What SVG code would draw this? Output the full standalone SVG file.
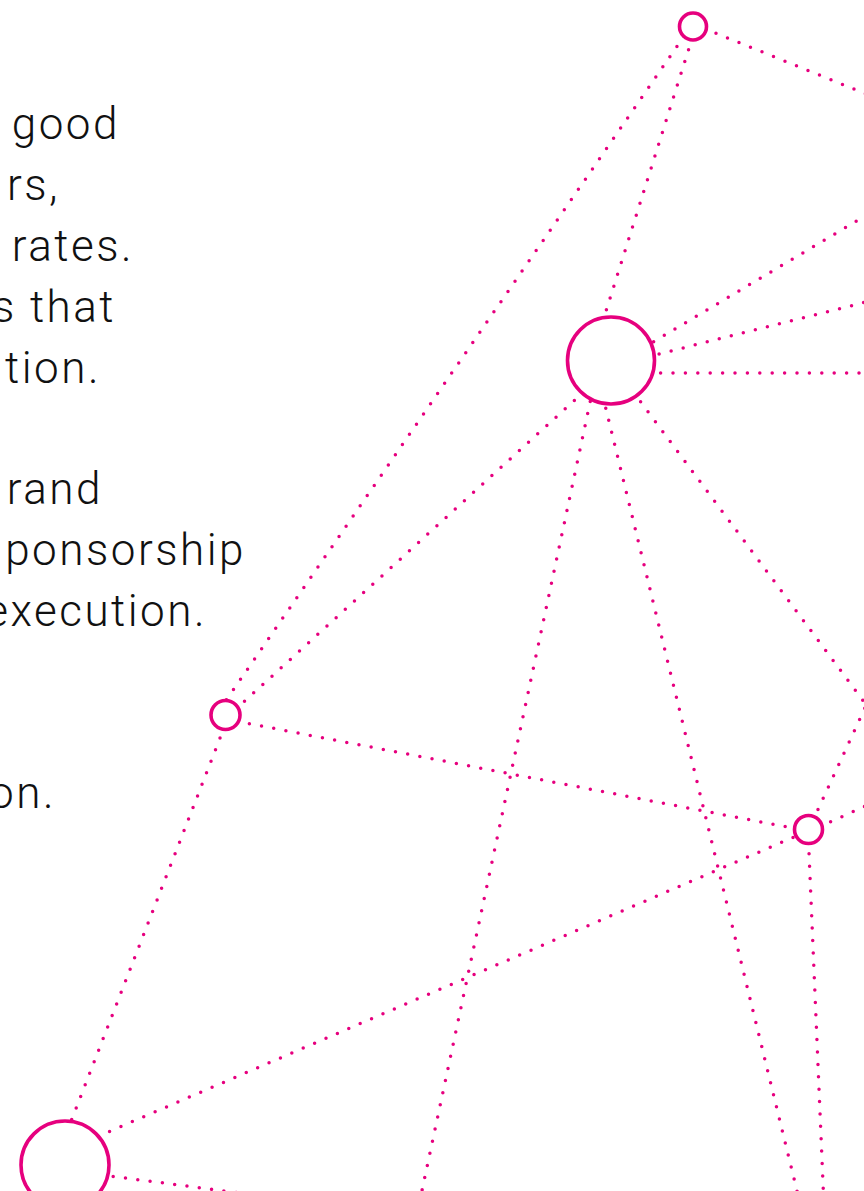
<svg xmlns="http://www.w3.org/2000/svg" width="864" height="1191" viewBox="0 0 864 1191">
<style>
.t{font-family:Roboto,"Liberation Sans",sans-serif;font-weight:300;font-size:44px;fill:#111;text-anchor:end;letter-spacing:2.5px}
.e{fill:none;stroke:#E6007E;stroke-width:3.5;stroke-linecap:round;stroke-dasharray:0 12.4}
.n{fill:#fff;stroke:#E6007E;stroke-width:3.6}
</style>
<rect width="864" height="1191" fill="#fff"/>
<g id="text">
<text class="t" x="120" y="139">good</text>
<text class="t" x="60" y="200">rs,</text>
<text class="t" x="134" y="261">rates.</text>
<text class="t" x="116" y="322">s that</text>
<text class="t" x="101" y="383">tion.</text>
<text class="t" x="103" y="504">rand</text>
<text class="t" x="246" y="565">ponsorship</text>
<text class="t" x="207" y="626">execution.</text>
<text class="t" x="56" y="808">on.</text>
</g>
<g id="connectors">
<line class="e" x1="693" y1="24" x2="870" y2="95.5"/>
<line class="e" x1="691" y1="26" x2="218" y2="712"/>
<line class="e" x1="696" y1="26" x2="600" y2="330"/>
<line class="e" x1="611" y1="367" x2="225" y2="719"/>
<line class="e" x1="611" y1="367" x2="870" y2="213"/>
<line class="e" x1="611" y1="366" x2="870" y2="301"/>
<line class="e" x1="611" y1="373" x2="870" y2="373"/>
<line class="e" x1="598" y1="365" x2="421" y2="1195"/>
<line class="e" x1="594" y1="360" x2="798" y2="1195"/>
<line class="e" x1="611" y1="362" x2="870" y2="710"/>
<line class="e" x1="870" y1="697" x2="809" y2="829"/>
<line class="e" x1="808" y1="832" x2="870" y2="804"/>
<line class="e" x1="225" y1="719" x2="808" y2="831"/>
<line class="e" x1="64" y1="1151" x2="808" y2="831"/>
<line class="e" x1="808" y1="829" x2="823.5" y2="1195"/>
<line class="e" x1="229" y1="715" x2="54" y2="1165"/>
<line class="e" x1="64" y1="1170" x2="240" y2="1193"/>
</g>
<g id="node-a"><circle class="n" cx="693" cy="26.5" r="13.5"/></g>
<g id="node-b"><circle class="n" cx="611" cy="360.5" r="43.5"/></g>
<g id="node-c"><circle class="n" cx="225.5" cy="715" r="14.5"/></g>
<g id="node-d"><circle class="n" cx="808.5" cy="829.5" r="14"/></g>
<g id="node-e"><circle class="n" cx="65" cy="1165" r="44"/></g>
</svg>
